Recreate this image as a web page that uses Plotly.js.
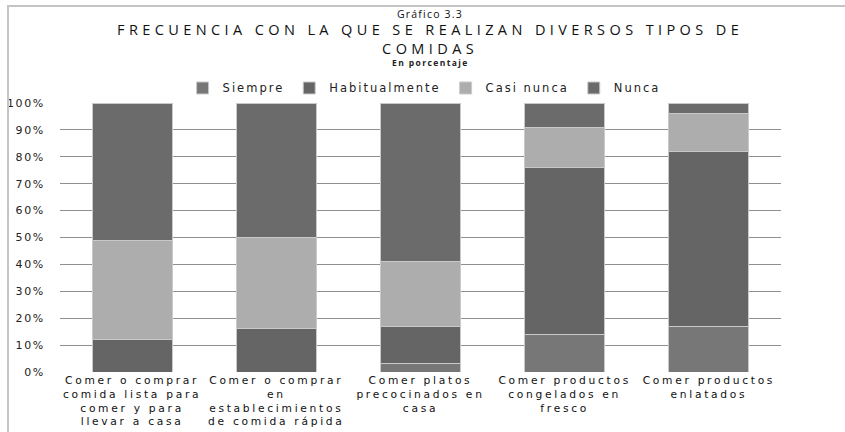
<!DOCTYPE html>
<html>
<head>
<meta charset="utf-8">
<script src="https://cdn.plot.ly/plotly-3.0.1.min.js"></script>
<style>
  html, body { margin: 0; padding: 0; background: #fff; }
  #wrap { position: relative; width: 845px; height: 432px; overflow: hidden; }
  #chart { position: absolute; left: 0; top: 0; width: 845px; height: 432px; }
  #frame { position: absolute; left: 7px; top: 5px; right: -2px; bottom: -2px;
           border-top: 2px solid #c4c4c4; border-left: 2px solid #c4c4c4; pointer-events: none; }
  /* wide, spaced lettering for the axis labels */
  #chart .xtick text { letter-spacing: 2.7px; }
  #chart .ytick text { letter-spacing: 1.6px; }
</style>
</head>
<body>
<div id="wrap">
  <div id="chart"></div>
  <div id="frame"></div>
</div>
<script>
// Tipos de comida (categorías del eje X)
const categorias = [
  "Comer o comprar<br>comida lista para<br>comer y para<br>llevar a casa",
  "Comer o comprar<br>en<br>establecimientos<br>de comida rápida",
  "Comer platos<br>precocinados en<br>casa",
  "Comer productos<br>congelados en<br>fresco",
  "Comer productos<br>enlatados"
];

// Porcentajes por frecuencia
const siempre       = [0, 0, 3, 14, 17];
const habitualmente = [12, 16, 14, 62, 65];
const casiNunca     = [37, 34, 24, 15, 14];
const nunca         = [51, 50, 59, 9, 4];

// Nombres de las series
const nombres = ["Siempre", "Habitualmente", "Casi nunca", "Nunca"];

const valores = [siempre, habitualmente, casiNunca, nunca];
const colores = ["#777777", "#656565", "#adadad", "#6b6b6b"];

// spaced text that Plotly still measures correctly
const spaced = (t, px) => `<span style="letter-spacing:${px}px">${t}</span>`;

const traces = nombres.map((n, i) => ({
  type: "bar",
  name: spaced(n, 2),
  x: categorias,
  y: valores[i],
  marker: { color: colores[i], line: { color: "#c9c9c9", width: 1 } },
  hoverinfo: "skip"
}));

const cx = 0.5132;

const layout = {
  width: 845,
  height: 432,
  margin: { l: 60, r: 64, t: 103, b: 60 },
  paper_bgcolor: "#fff",
  plot_bgcolor: "#fff",
  barmode: "stack",
  bargap: 0.445,
  showlegend: true,
  legend: {
    orientation: "h",
    x: 0.505, xanchor: "center",
    y: 1.0558, yanchor: "middle",
    font: { family: "DejaVu Sans", size: 11.5, color: "#222" },
    itemwidth: 30,
    traceorder: "normal"
  },
  xaxis: {
    type: "category",
    showgrid: false,
    showline: false,
    zeroline: false,
    ticks: "",
    tickangle: 0,
    automargin: false,
    tickfont: { family: "DejaVu Sans", size: 10.7, color: "#111" }
  },
  yaxis: {
    range: [0, 100],
    dtick: 10,
    ticksuffix: "%",
    showgrid: true,
    gridcolor: "#8f8f8f",
    gridwidth: 1,
    zeroline: false,
    showline: false,
    ticks: "outside",
    ticklen: 12,
    tickcolor: "rgba(0,0,0,0)",
    automargin: false,
    tickfont: { family: "DejaVu Sans", size: 11, color: "#222" }
  },
  annotations: [
    { text: spaced("Gráfico 3.3", 1.2), xref: "paper", yref: "paper", x: cx, y: 1.331,
      xanchor: "center", yanchor: "middle", showarrow: false,
      font: { family: "Open Sans", size: 10.5, color: "#111" } },
    { text: spaced("FRECUENCIA CON LA QUE SE REALIZAN DIVERSOS TIPOS DE", 4.4) + "<br>" +
            spaced("COMIDAS", 4.4),
      xref: "paper", yref: "paper",
      x: cx, y: 1.2379, xanchor: "center", yanchor: "middle", showarrow: false,
      font: { family: "Open Sans", size: 14.5, color: "#111" } },
    { text: "<b>" + spaced("En porcentaje", 1.4) + "</b>", xref: "paper", yref: "paper",
      x: cx, y: 1.150, xanchor: "center", yanchor: "middle", showarrow: false,
      font: { family: "Open Sans", size: 8.5, color: "#222" } }
  ]
};

Plotly.newPlot("chart", traces, layout, { staticPlot: true, displayModeBar: false });
</script>
</body>
</html>
